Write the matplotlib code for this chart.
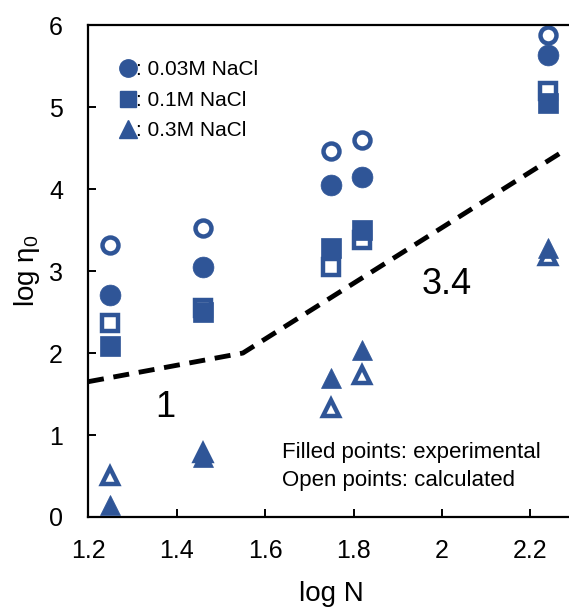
import matplotlib.pyplot as plt
from matplotlib.lines import Line2D

plt.rcParams['font.family'] = ['Liberation Sans', 'DejaVu Sans']
plt.rcParams['mathtext.fontset'] = 'custom'
plt.rcParams['mathtext.rm'] = 'Liberation Sans'
plt.rcParams['mathtext.it'] = 'Liberation Sans'

BLUE = '#2F5597'

# chain lengths (log N)
log_n = [1.25, 1.46, 1.75, 1.82, 2.24]

# measured zero-shear viscosity (filled points)
exp_003 = [2.71, 3.05, 4.05, 4.15, 5.63]
exp_01 = [2.08, 2.50, 3.28, 3.50, 5.05]
exp_03 = [0.15, 0.73, 1.70, 2.04, 3.28]

# model values (open points)
calc_003 = [3.32, 3.52, 4.46, 4.60, 5.88]
calc_01 = [2.37, 2.55, 3.05, 3.38, 5.20]
calc_03 = [0.50, 0.78, 1.33, 1.73, 3.18]

# scaling guide line: slope 1 then slope 3.4
guide_x = [1.20, 1.55, 2.27]
guide_y = [1.65, 2.00, 2.00 + 3.4 * (2.27 - 1.55)]

fig = plt.figure(figsize=(5.69, 6.08), dpi=100)
ax = fig.add_axes([0.1547, 0.1497, 0.8554, 0.809])

ax.plot(guide_x, guide_y, color='black', lw=3.5, linestyle=(0, (3.3, 2.0)), zorder=1)

open_kw = dict(ls='none', mfc='white', mec=BLUE, mew=3.2, ms=11.5, zorder=2)
fill_kw = dict(ls='none', color=BLUE, mec=BLUE, mew=0.5, zorder=3)

ax.plot(log_n, calc_003, marker='o', **open_kw)
ax.plot(log_n, calc_01, marker='s', **open_kw)
ax.plot(log_n, calc_03, marker='^', **open_kw)
ax.plot(log_n, exp_003, marker='o', ms=15, **fill_kw)
ax.plot(log_n, exp_01, marker='s', ms=14, **fill_kw)
ax.plot(log_n, exp_03, marker='^', ms=15, **fill_kw)

ax.set_xlim(1.2, 2.3)
ax.set_ylim(0, 6)
ax.set_xticks([1.2, 1.4, 1.6, 1.8, 2.0, 2.2])
ax.set_xticklabels(['1.2', '1.4', '1.6', '1.8', '2', '2.2'])
ax.set_yticks(range(0, 7))

for side in ['left', 'bottom', 'top', 'right']:
    ax.spines[side].set_linewidth(1.6)
ax.tick_params(direction='in', length=6, width=1.4, labelsize=18)
ax.tick_params(axis='x', pad=16)
ax.tick_params(axis='y', pad=18)

ax.set_xlabel('log N', fontsize=20, labelpad=13)
ax.set_ylabel(r'log $\mathregular{\eta_0}$', fontsize=20, labelpad=5)

ax.text(1.374, 1.34, '1', fontsize=26, ha='center', va='center')
ax.text(2.011, 2.83, '3.4', fontsize=26, ha='center', va='center')

ax.text(1.638, 0.79, 'Filled points: experimental', fontsize=16, va='center')
ax.text(1.638, 0.45, 'Open points: calculated', fontsize=16, va='center')

handles = [
    Line2D([], [], ls='none', marker='o', color=BLUE, ms=12.5),
    Line2D([], [], ls='none', marker='s', color=BLUE, ms=12),
    Line2D([], [], ls='none', marker='^', color=BLUE, ms=13),
]
labels = [': 0.03M NaCl', ': 0.1M NaCl', ': 0.3M NaCl']
ax.legend(handles, labels, loc='upper left', bbox_to_anchor=(0.05, 0.945),
          frameon=False, fontsize=15, handlelength=0.7, handletextpad=0.05,
          labelspacing=0.55, borderaxespad=0)

fig.savefig('out.png', dpi=100)
